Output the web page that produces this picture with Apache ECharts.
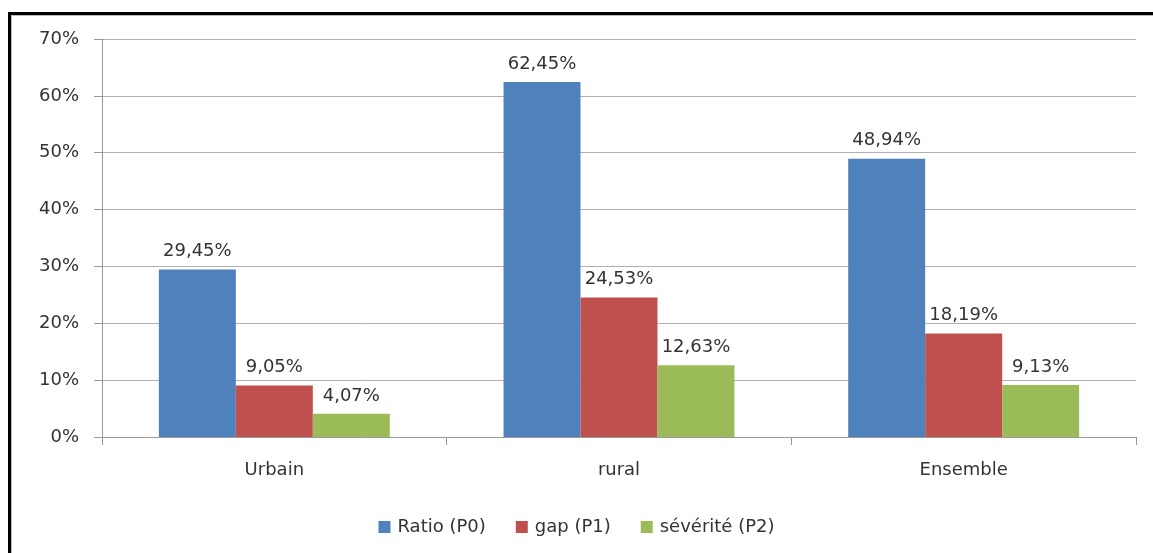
<!DOCTYPE html>
<html>
<head>
<meta charset="utf-8">
<script src="https://cdn.jsdelivr.net/npm/echarts@6/dist/echarts.min.js"></script>
<style>
html,body{margin:0;padding:0;background:#fff;}
#c{width:1153px;height:553px;}
</style>
</head>
<body>
<div id="c"></div>
<script>
const categories = ['Urbain', 'rural', 'Ensemble'];
const seriesNames = ['Ratio (P0)', 'gap (P1)', 'sévérité (P2)'];
const ratioP0 = [29.45, 62.45, 48.94];
const gapP1 = [9.05, 24.53, 18.19];
const severiteP2 = [4.07, 12.63, 9.13];
const yTicks = [0, 10, 20, 30, 40, 50, 60, 70];
const colors = ['#4F81BD', '#C0504D', '#9BBB59'];

const FONT = 'DejaVu Sans';
const TXT = '#333333';
const FS = 18;
const fmt = v => v.toFixed(2).replace('.', ',') + '%';

const chart = echarts.init(document.getElementById('c'));
const mk = (name, data, color) => ({
  name, type: 'bar', data, barGap: '0%', barCategoryGap: '33%',
  itemStyle: { color },
  label: {
    show: true, position: 'top', distance: 9,
    fontFamily: FONT, fontSize: FS, color: TXT,
    formatter: p => fmt(p.value)
  }
});
chart.setOption({
  animation: false,
  graphic: [
    { type: 'rect', shape: { x: 9.5, y: 13.5, width: 1200, height: 600 },
      style: { fill: 'none', stroke: '#000', lineWidth: 3 }, z: 100 },
    { type: 'rect', shape: { x: 11.5, y: 15.5, width: 1200, height: 600 },
      style: { fill: 'none', stroke: '#bbbbbb', lineWidth: 1 }, z: 99 }
  ],
  grid: { left: 102, right: 17, top: 39, bottom: 116, containLabel: false },
  legend: {
    data: seriesNames, top: 513, left: 'center',
    itemWidth: 12, itemHeight: 12, itemGap: 30, icon: 'rect',
    textStyle: { fontFamily: FONT, fontSize: FS, color: TXT, padding: [0, 0, 0, 2] }
  },
  xAxis: {
    type: 'category', data: categories,
    axisLine: { lineStyle: { color: '#999999', width: 1 } },
    axisTick: { show: true, length: 8, lineStyle: { color: '#999999' } },
    axisLabel: { fontFamily: FONT, fontSize: FS, color: TXT, margin: 24 }
  },
  yAxis: {
    type: 'value', min: 0, max: 70, interval: 10,
    axisLine: { show: true, lineStyle: { color: '#999999' } },
    axisTick: { show: true, length: 8, lineStyle: { color: '#999999' } },
    axisLabel: { fontFamily: FONT, fontSize: FS, color: TXT, margin: 23,
      formatter: v => yTicks.includes(v) ? v + '%' : '' },
    splitLine: { show: true, lineStyle: { color: '#b0b0b0', width: 1 } }
  },
  series: [
    mk(seriesNames[0], ratioP0, colors[0]),
    mk(seriesNames[1], gapP1, colors[1]),
    mk(seriesNames[2], severiteP2, colors[2])
  ]
});
</script>
</body>
</html>
